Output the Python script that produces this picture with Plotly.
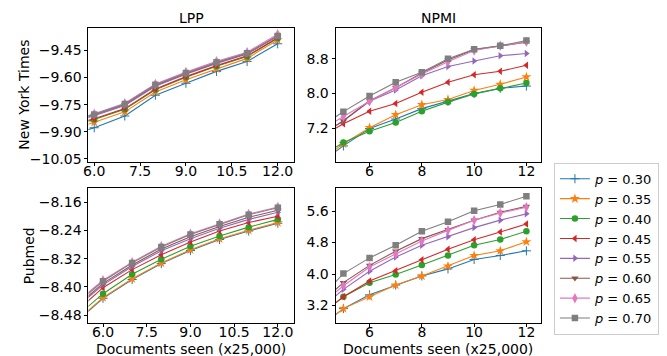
import plotly.graph_objects as go

# ---------------- data ----------------
p_labels = ["0.30", "0.35", "0.40", "0.45", "0.55", "0.60", "0.65", "0.70"]
colors = ["#1f77b4", "#ff7f0e", "#2ca02c", "#d62728", "#9467bd", "#8c564b", "#e377c2", "#7f7f7f"]
symbols = ["cross-thin-open", "star", "circle", "triangle-left", "triangle-right",
           "triangle-down", "diamond-tall", "square"]

x_lpp = [5, 6, 7, 8, 9, 10, 11, 12]
x_npmi = [4, 5, 6, 7, 8, 9, 10, 11, 12]

lpp_nyt = [
    [-9.93, -9.878, -9.813, -9.698, -9.632, -9.566, -9.511, -9.413],
    [-9.90, -9.848, -9.790, -9.680, -9.612, -9.551, -9.494, -9.392],
    [-9.88, -9.832, -9.775, -9.668, -9.598, -9.537, -9.483, -9.382],
    [-9.875, -9.828, -9.772, -9.664, -9.595, -9.534, -9.480, -9.380],
    [-9.86, -9.812, -9.755, -9.648, -9.582, -9.522, -9.470, -9.372],
    [-9.855, -9.806, -9.750, -9.643, -9.578, -9.518, -9.467, -9.368],
    [-9.85, -9.800, -9.742, -9.636, -9.570, -9.510, -9.460, -9.360],
    [-9.853, -9.804, -9.747, -9.640, -9.575, -9.516, -9.465, -9.370],
]

npmi_nyt = [
    [6.36, 6.79, 7.19, 7.41, 7.65, 7.82, 8.00, 8.12, 8.17],
    [6.40, 6.84, 7.21, 7.51, 7.74, 7.86, 8.07, 8.21, 8.38],
    [6.50, 6.87, 7.13, 7.33, 7.59, 7.80, 7.99, 8.12, 8.24],
    [6.95, 7.30, 7.59, 7.77, 8.03, 8.26, 8.43, 8.51, 8.65],
    [6.98, 7.37, 7.82, 8.08, 8.41, 8.62, 8.75, 8.87, 8.92],
    [6.98, 7.37, 7.83, 8.13, 8.47, 8.77, 9.01, 9.10, 9.18],
    [7.10, 7.47, 7.82, 8.13, 8.45, 8.73, 8.99, 9.10, 9.19],
    [7.18, 7.58, 7.94, 8.26, 8.49, 8.80, 9.02, 9.10, 9.22],
]

lpp_pub = [
    [-8.505, -8.432, -8.379, -8.334, -8.297, -8.266, -8.242, -8.220],
    [-8.502, -8.430, -8.377, -8.332, -8.295, -8.264, -8.240, -8.218],
    [-8.490, -8.419, -8.364, -8.322, -8.285, -8.256, -8.231, -8.209],
    [-8.475, -8.402, -8.351, -8.309, -8.273, -8.242, -8.218, -8.200],
    [-8.465, -8.394, -8.342, -8.298, -8.264, -8.234, -8.209, -8.189],
    [-8.460, -8.390, -8.338, -8.293, -8.258, -8.229, -8.203, -8.183],
    [-8.450, -8.381, -8.330, -8.285, -8.250, -8.221, -8.194, -8.174],
    [-8.454, -8.384, -8.332, -8.287, -8.252, -8.223, -8.196, -8.176],
]

npmi_pub = [
    [2.60, 3.12, 3.47, 3.72, 3.95, 4.13, 4.37, 4.47, 4.59],
    [2.60, 3.12, 3.42, 3.72, 3.95, 4.20, 4.47, 4.59, 4.82],
    [2.90, 3.42, 3.78, 3.99, 4.23, 4.47, 4.73, 4.88, 5.09],
    [2.90, 3.42, 3.82, 4.08, 4.36, 4.63, 4.87, 5.07, 5.27],
    [3.05, 3.61, 4.07, 4.43, 4.73, 4.95, 5.18, 5.37, 5.53],
    [3.20, 3.78, 4.22, 4.58, 4.90, 5.13, 5.37, 5.57, 5.72],
    [3.15, 3.70, 4.18, 4.51, 4.84, 5.11, 5.37, 5.55, 5.70],
    [3.31, 4.01, 4.41, 4.73, 5.09, 5.33, 5.61, 5.77, 5.98],
]

lpp_x_ticks = [6.0, 7.5, 9.0, 10.5, 12.0]
npmi_x_ticks = [6, 8, 10, 12]
lpp_nyt_yticks = [-9.45, -9.60, -9.75, -9.90, -10.05]
npmi_nyt_yticks = [7.2, 8.0, 8.8]
lpp_pub_yticks = [-8.16, -8.24, -8.32, -8.40, -8.48]
npmi_pub_yticks = [3.2, 4.0, 4.8, 5.6]

# ---------------- figure ----------------
W, H = 667, 356
fig = go.Figure()

panels = [
    ("x", "y", x_lpp, lpp_nyt),
    ("x2", "y2", x_npmi, npmi_nyt),
    ("x3", "y3", x_lpp, lpp_pub),
    ("x4", "y4", x_npmi, npmi_pub),
]

for pi, (xa, ya, xs, data) in enumerate(panels):
    for i, ys in enumerate(data):
        sym = symbols[i]
        msize = 6.5
        if sym in ("star", "diamond-tall"):
            msize = 7.5
        marker = dict(symbol=sym, size=msize, color=colors[i],
                      line=dict(width=1 if sym == "cross-thin-open" else 0, color=colors[i]))
        fig.add_trace(go.Scatter(
            x=xs, y=ys, xaxis=xa, yaxis=ya, mode="lines+markers",
            line=dict(color=colors[i], width=1.1), marker=marker,
            name="<i>p</i> = " + p_labels[i], showlegend=(pi == 0),
            cliponaxis=True,
        ))

def fmt(v, nd):
    s = f"{abs(v):.{nd}f}"
    return ("\u2212" + s) if v < 0 else s

tickfont = dict(family="DejaVu Sans", size=14, color="black")
common = dict(showgrid=False, zeroline=False, showline=True, linecolor="black", linewidth=1,
              mirror=True, ticks="outside", ticklen=3, tickcolor="black", tickwidth=1,
              tickfont=tickfont, tickmode="array")
xcommon = dict(common, ticklabelstandoff=-6)

xl = [76 / W, 283.3 / W]
xr = [325 / W, 532.3 / W]
yt = [1 - 155.7 / H, 1 - 20.7 / H]
yb = [1 - 319 / H, 1 - 183 / H]

fig.update_layout(
    width=W, height=H, margin=dict(l=0, r=0, t=0, b=0),
    paper_bgcolor="white", plot_bgcolor="white",
    font=dict(family="DejaVu Sans", size=14, color="black"),
    xaxis=dict(domain=xl, anchor="y", range=[5.81, 12.54], tickvals=lpp_x_ticks,
               ticktext=[fmt(v, 1) for v in lpp_x_ticks], **xcommon),
    yaxis=dict(domain=yt, anchor="x", range=[-10.065, -9.328], tickvals=lpp_nyt_yticks,
               ticktext=[fmt(v, 2) for v in lpp_nyt_yticks], **common),
    xaxis2=dict(domain=xr, anchor="y2", range=[4.70, 12.57], tickvals=npmi_x_ticks,
                ticktext=[str(v) for v in npmi_x_ticks], **xcommon),
    yaxis2=dict(domain=yt, anchor="x2", range=[6.43, 9.50], tickvals=npmi_nyt_yticks,
                ticktext=[fmt(v, 1) for v in npmi_nyt_yticks], **common),
    xaxis3=dict(domain=xl, anchor="y3", range=[5.50, 12.56], tickvals=lpp_x_ticks,
                ticktext=[fmt(v, 1) for v in lpp_x_ticks], **xcommon),
    yaxis3=dict(domain=yb, anchor="x3", range=[-8.5005, -8.1216], tickvals=lpp_pub_yticks,
                ticktext=[fmt(v, 2) for v in lpp_pub_yticks], **common),
    xaxis4=dict(domain=xr, anchor="y4", range=[4.70, 12.57], tickvals=npmi_x_ticks,
                ticktext=[str(v) for v in npmi_x_ticks], **xcommon),
    yaxis4=dict(domain=yb, anchor="x4", range=[2.766, 6.177], tickvals=npmi_pub_yticks,
                ticktext=[fmt(v, 1) for v in npmi_pub_yticks], **common),
    legend=dict(x=545 / W, y=1 - 157 / H, xanchor="left", yanchor="top",
                bordercolor="#cccccc", borderwidth=1, bgcolor="white",
                font=dict(family="DejaVu Sans", size=13, color="black"),
                tracegroupgap=0, itemwidth=30),
)

ann_font = dict(family="DejaVu Sans", size=14, color="black")
anns = [
    dict(text="LPP", x=(xl[0] + xl[1]) / 2, y=1 - 10 / H),
    dict(text="NPMI", x=(xr[0] + xr[1]) / 2, y=1 - 10 / H),
    dict(text="Documents seen (x25,000)", x=(xl[0] + xl[1]) / 2, y=1 - 346 / H),
    dict(text="Documents seen (x25,000)", x=(xr[0] + xr[1]) / 2, y=1 - 346 / H),
    dict(text="New York Times", x=11 / W, y=1 - 88 / H, textangle=-90),
    dict(text="Pubmed", x=17 / W, y=1 - 251 / H, textangle=-90),
]
for a in anns:
    fig.add_annotation(xref="paper", yref="paper", showarrow=False, font=ann_font,
                       xanchor="center", yanchor="middle", borderpad=0, **a)

fig.write_html("out.html")
